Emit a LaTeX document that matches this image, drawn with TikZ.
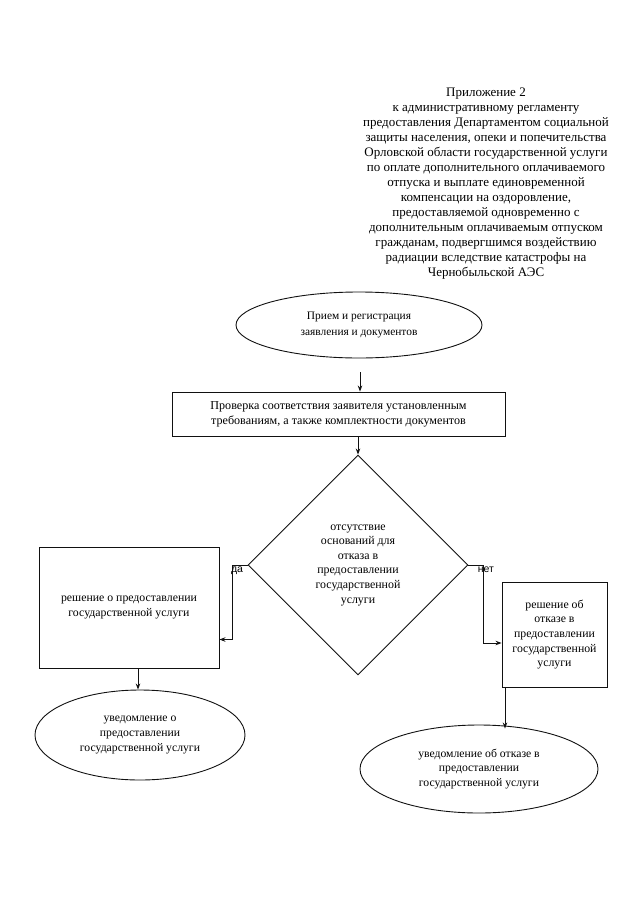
\documentclass[tikz,border=0pt]{standalone}
\usepackage{fontspec}
\setmainfont{Liberation Serif}
\newfontfamily\arialfont{Liberation Sans}
\usetikzlibrary{positioning,shapes.geometric,arrows.meta}
\definecolor{ink}{HTML}{111111}

\begin{document}
\begin{tikzpicture}[x=1pt, y=-1pt, line width=0.9pt, draw=ink,
    >={Stealth[length=6pt,width=4.5pt]},
    oval/.style={draw, ellipse, inner sep=0pt, align=center, font=\fontsize{11.7}{14.6}\selectfont},
    box/.style={draw, rectangle, inner sep=0pt, align=center, font=\fontsize{11.8}{14.6}\selectfont},
    choice/.style={draw, diamond, inner sep=0pt, align=center, font=\fontsize{11.9}{14.6}\selectfont},
    lbl/.style={font=\arialfont\fontsize{10.5}{11}\selectfont, inner sep=0pt}]
    \useasboundingbox (0,0) rectangle (640,905);
    % annex header
    \node[align=center, font=\fontsize{13}{15}\selectfont] (head) at (486,184) {Приложение 2\\
      к административному регламенту\\
      предоставления Департаментом социальной\\
      защиты населения, опеки и попечительства\\
      Орловской области государственной услуги\\
      по оплате дополнительного оплачиваемого\\
      отпуска и выплате единовременной\\
      компенсации на оздоровление,\\
      предоставляемой одновременно с\\
      дополнительным оплачиваемым отпуском\\
      гражданам, подвергшимся воздействию\\
      радиации вследствие катастрофы на\\
      Чернобыльской АЭС};
    % flow
    \node[oval, font=\fontsize{11.4}{15.5}\selectfont, minimum width=246pt, minimum height=66pt] (intake) at (359,325) {Прием и регистрация\\заявления и документов};
    \node[box, font=\fontsize{12.1}{15}\selectfont, minimum width=333pt, minimum height=44pt] (check) at (338.5,414) {Проверка соответствия заявителя установленным\\требованиям, а также комплектности документов};
    \node[choice, minimum width=220pt, minimum height=220pt] (grounds) at (358,565) {отсутствие\\оснований для\\отказа в\\предоставлении\\государственной\\услуги};
    \node[box, minimum width=180pt, minimum height=121pt] (grant) at (129,607.5) {решение о предоставлении\\государственной услуги};
    \node[box, minimum width=105pt, minimum height=105pt] (refuse) at (554.5,634.5) {решение об\\отказе в\\предоставлении\\государственной\\услуги};
    \node[oval, minimum width=210pt, minimum height=90pt] (grantnote) at (140,735) {уведомление о\\предоставлении\\государственной услуги};
    \node[oval, minimum width=238pt, minimum height=88pt] (refusenote) at (479,769) {уведомление об отказе в\\предоставлении\\государственной услуги};
    \draw[->, shorten <=14pt] ([xshift=1pt]intake.south) -- ([xshift=1pt]intake.south |- check.north);
    \draw[->] (check.south -| grounds.north) -- (grounds.north);
    \draw[->] (grounds.west) -- ++(-15,0) node[lbl, anchor=north west, xshift=-2pt, yshift=-1pt] {да} |- ([yshift=-32pt]grant.east);
    \draw[->] (grounds.east) -- ++(15,0) node[lbl, anchor=north west, xshift=-6pt, yshift=-1.5pt] {нет} |- ([yshift=-8.5pt]refuse.west);
    \draw[->] ([xshift=9pt]grant.south) -- ([xshift=9pt]grant.south |- grantnote.north);
    \draw[->] ([xshift=-49.5pt]refuse.south) -- ([xshift=-49.5pt,yshift=-4pt]refuse.south |- refusenote.north);
  \end{tikzpicture}
\end{document}
